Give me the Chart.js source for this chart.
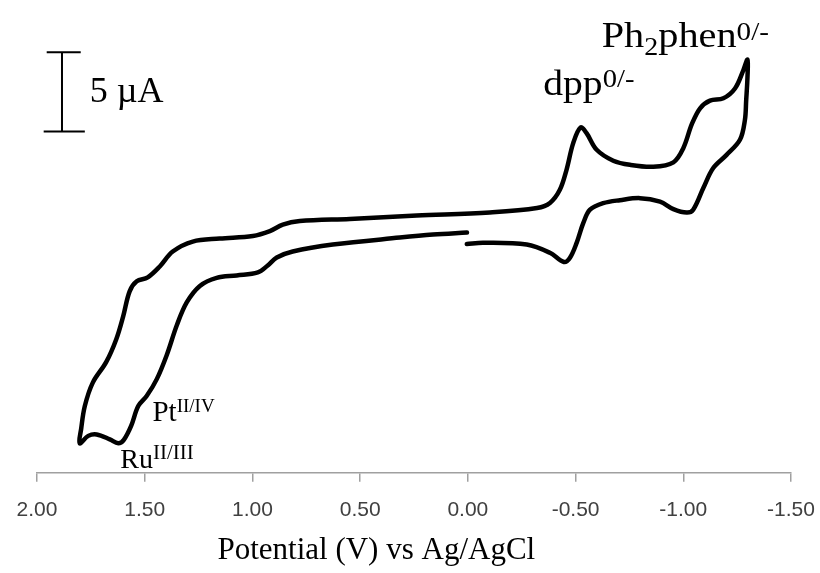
<!DOCTYPE html>
<html>
<head>
<meta charset="utf-8">
<title>Cyclic voltammogram</title>
<script src="https://cdn.jsdelivr.net/npm/chart.js@4.4.1/dist/chart.umd.min.js"></script>
<style>
    html, body { margin: 0; padding: 0; background: #fff; }
    #wrap { width: 820px; height: 573px; position: relative; }
</style>
</head>
<body>
<div id="wrap"><canvas id="cv"></canvas></div>
<script>
// scan starts at 0 V, goes anodic to +1.80 V, back to -1.30 V, then returns to 0 V
const potential = [
    0.004, 0.162, 0.316, 0.627, 0.813, 0.887, 0.929, 0.975, 1.073, 1.166,
    1.244, 1.305, 1.351, 1.398, 1.444, 1.491, 1.530, 1.563, 1.597, 1.623,
    1.662, 1.723, 1.762, 1.802,
    1.795, 1.778, 1.741, 1.679, 1.632, 1.600, 1.570, 1.537, 1.486, 1.430,
    1.370, 1.277, 1.152, 0.998, 0.919, 0.859, 0.780, 0.548, 0.237,
    -0.102, -0.321, -0.381, -0.427, -0.458, -0.489, -0.523, -0.551, -0.598, -0.675,
    -0.752, -0.861, -0.954, -1.000, -1.040, -1.078, -1.124, -1.186, -1.240, -1.279,
    -1.298,
    -1.298, -1.292, -1.286, -1.263, -1.201, -1.139, -1.093, -1.046, -1.016, -0.954,
    -0.892, -0.799, -0.706, -0.628, -0.567, -0.536, -0.505, -0.474, -0.446, -0.381,
    -0.273, -0.071, 0.005
];

// current in µA (arbitrary offset, no y axis is shown)
const current = [
    15.16, 15.03, 14.84, 14.40, 13.96, 13.58, 13.08, 12.64, 12.45, 12.30,
    11.79, 10.75, 9.31, 7.42, 5.91, 4.84, 4.21, 2.96, 2.08, 1.86,
    2.11, 2.42, 2.33, 1.86,
    2.77, 4.21, 5.69, 6.98, 8.43, 9.87, 11.45, 12.08, 12.33, 13.02,
    13.96, 14.59, 14.78, 14.94, 15.25, 15.66, 15.88, 16.02, 16.23,
    16.43, 16.71, 17.03, 17.86, 19.12, 20.80, 21.79, 21.43, 20.38, 19.69,
    19.43, 19.31, 19.59, 20.48, 22.01, 23.00, 23.48, 23.63, 24.25, 25.41,
    26.07,
    24.97, 23.52, 22.26, 21.01, 20.06, 19.23, 17.97, 16.60, 16.42, 16.64,
    17.11, 17.33, 17.20, 17.01, 16.60, 15.77, 14.51, 13.57, 13.30, 13.88,
    14.40, 14.51, 14.43
];

const potentialTicks = [2.0, 1.5, 1.0, 0.5, 0.0, -0.5, -1.0, -1.5];

const scaleBarCurrent = 5; // µA

const SERIF = '"Liberation Serif", "Times New Roman", serif';
const SANS = '"Liberation Sans", Arial, sans-serif';

// redox couple labels, anchored in data units (V, µA)
const peakLabels = [
    { x: -0.621, y: 26.87, stretch: 1.12, parts: [
        { t: 'Ph', size: 36 }, { t: '2', size: 25, dy: 8 },
        { t: 'phen', size: 36 }, { t: '0/-', size: 26, dy: -7 }] },
    { x: -0.350, y: 23.84, stretch: 1.1, parts: [
        { t: 'dpp', size: 36 }, { t: '0/-', size: 26, dy: -8 }] },
    { x: 1.464, y: 3.29, parts: [
        { t: 'Pt', size: 29 }, { t: 'II/IV', size: 19, dy: -9 }] },
    { x: 1.613, y: 0.30, parts: [
        { t: 'Ru', size: 28 }, { t: 'II/III', size: 21, dy: -9 }] }
];

function drawRich(ctx, x, y, parts, stretch) {
    ctx.save();
    ctx.translate(x, y);
    ctx.scale(stretch || 1, 1);
    let cx = 0;
    parts.forEach(p => {
        ctx.font = p.size + 'px ' + SERIF;
        ctx.fillText(p.t, cx, p.dy || 0);
        cx += ctx.measureText(p.t).width;
    });
    ctx.restore();
}

// scale bar, peak labels and the axis title, drawn through the chart scales
const annotations = {
    id: 'cvAnnotations',
    afterDraw(chart) {
        const { ctx, chartArea, scales: { x, y } } = chart;
        ctx.save();
        ctx.fillStyle = '#000';
        ctx.strokeStyle = '#000';
        ctx.textBaseline = 'alphabetic';
        ctx.textAlign = 'left';

        const base = 21.53;
        const barX = x.getPixelForValue(1.884);
        const yLow = y.getPixelForValue(base);
        const yHigh = y.getPixelForValue(base + scaleBarCurrent);
        ctx.lineWidth = 2;
        ctx.beginPath();
        ctx.moveTo(barX, yLow);
        ctx.lineTo(barX, yHigh);
        ctx.moveTo(x.getPixelForValue(1.955), yHigh);
        ctx.lineTo(x.getPixelForValue(1.797), yHigh);
        ctx.moveTo(x.getPixelForValue(1.969), yLow);
        ctx.lineTo(x.getPixelForValue(1.778), yLow);
        ctx.stroke();

        ctx.font = '36px ' + SERIF;
        ctx.fillText(scaleBarCurrent + ' \u00b5A', x.getPixelForValue(1.755), y.getPixelForValue(23.42));

        peakLabels.forEach(l => {
            drawRich(ctx, x.getPixelForValue(l.x), y.getPixelForValue(l.y), l.parts, l.stretch);
        });

        // axis title sits a little left of the plot centre
        ctx.font = '31px ' + SERIF;
        ctx.textAlign = 'center';
        ctx.fillText('Potential (V) vs Ag/AgCl',
            chartArea.left + chartArea.width * 0.45, chartArea.bottom + 86);
        ctx.restore();
    }
};

new Chart(document.getElementById('cv'), {
    type: 'scatter',
    data: {
        datasets: [{
            data: potential.map((v, i) => ({ x: v, y: current[i] })),
            showLine: true,
            borderColor: '#000',
            borderWidth: 4.5,
            tension: 0.35,
            pointRadius: 0,
            borderCapStyle: 'round',
            borderJoinStyle: 'round'
        }]
    },
    options: {
        responsive: true,
        maintainAspectRatio: false,
        animation: false,
        layout: { padding: { top: 10, left: 37, right: 29, bottom: 34 } },
        plugins: {
            legend: { display: false },
            tooltip: { enabled: false }
        },
        scales: {
            x: {
                type: 'linear',
                reverse: true,
                min: -1.5,
                max: 2.0,
                afterBuildTicks: axis => {
                    axis.ticks = potentialTicks.map(v => ({ value: v }));
                },
                // edge labels fit inside the layout padding already
                afterFit: axis => {
                    axis.paddingLeft = 0;
                    axis.paddingRight = 0;
                },
                ticks: {
                    autoSkip: false,
                    maxRotation: 0,
                    padding: 16,
                    color: '#404040',
                    font: { family: SANS, size: 21 },
                    callback: v => v.toFixed(2)
                },
                grid: {
                    drawOnChartArea: false,
                    drawTicks: true,
                    tickLength: 9,
                    color: '#a0a0a0',
                    lineWidth: 1.5
                },
                border: { color: '#a0a0a0', width: 1.5 }
            },
            y: {
                display: false,
                min: 0,
                max: 29.2
            }
        }
    },
    plugins: [annotations]
});
</script>
</body>
</html>
